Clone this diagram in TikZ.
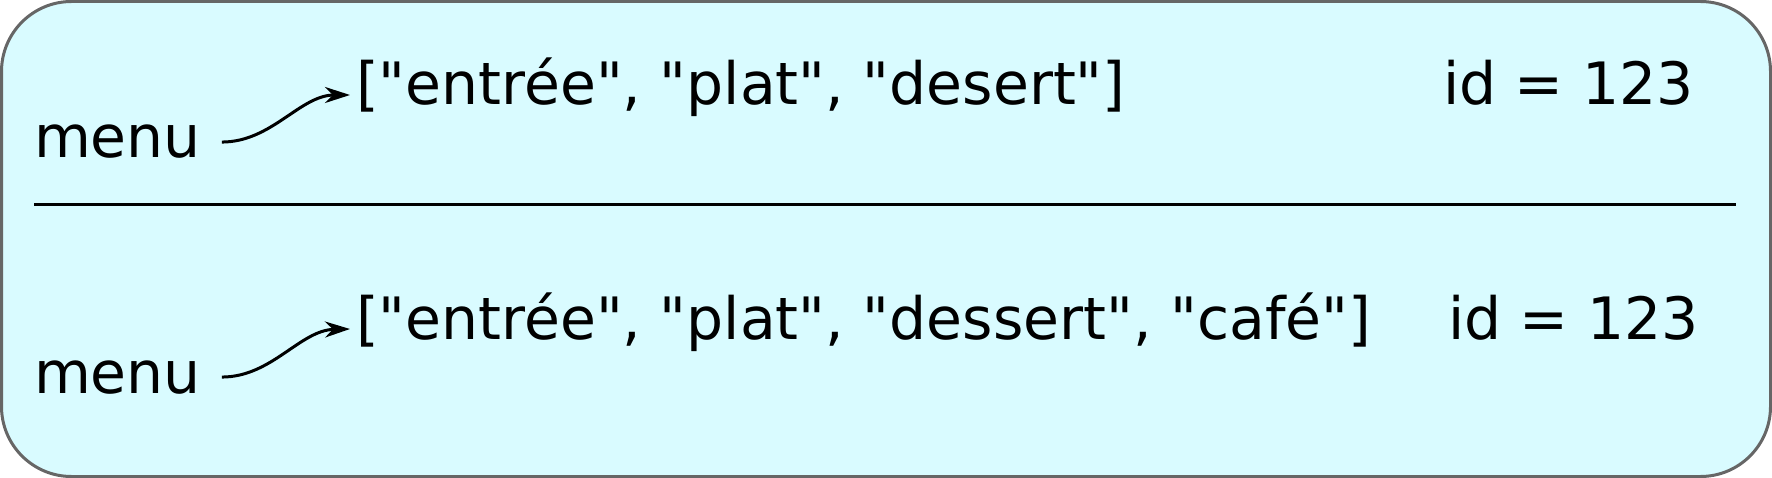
\documentclass[tikz,border=0pt]{standalone}
\usepackage{fontspec}
\newfontfamily\djv{DejaVu Sans}[Ligatures=TeXOff]
\usetikzlibrary{arrows.meta}
\definecolor{boxfill}{HTML}{D9FBFF}
\definecolor{boxline}{HTML}{666666}
\tikzset{
  txt/.style={inner sep=0pt, outer sep=0pt, anchor=base west, font=\djv\fontsize{58.4}{70}\selectfont},
  link/.style={line width=3pt, -{Stealth[length=25pt,width=16pt,inset=8pt]}},
}
\begin{document}
\begin{tikzpicture}[x=1pt,y=-1pt]
\useasboundingbox (0,0) rectangle (1772,478);
\draw[boxline, fill=boxfill, line width=3pt, rounded corners=70pt] (1.5,1.5) rectangle (1770.5,476.5);
\draw[line width=2.6pt] (34,204.5) -- (1736,204.5);
% top row
\node[txt] (m1) at (34,158) {menu};
\node[txt] (l1) at (356,105) {["entrée", "plat", "desert"]};
\node[txt] (i1) at (1443,105) {id = 123};
% bottom row
\node[txt] (m2) at (34,393) {menu};
\node[txt] (l2) at (356,339) {["entrée", "plat", "dessert", "café"]};
\node[txt] (i2) at (1448,339) {id = 123};
\draw[link] ([xshift=21pt]m1.east) .. controls (272,142) and (300,95) .. ([shift={(-6pt,10pt)}]l1.base west);
\draw[link] ([xshift=21pt]m2.east) .. controls (272,377) and (300,330) .. ([shift={(-6pt,10pt)}]l2.base west);
\end{tikzpicture}
\end{document}
